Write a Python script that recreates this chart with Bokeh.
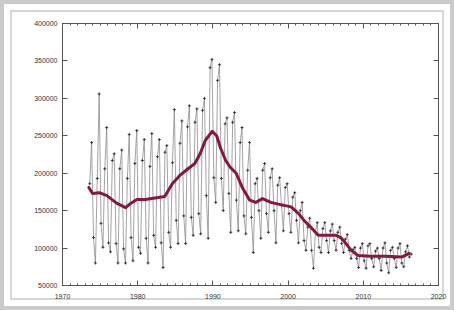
from bokeh.plotting import figure
from bokeh.models import (FixedTicker, LinearAxis, BasicTickFormatter, ColumnDataSource,
                          CustomJSTickFormatter)
from bokeh.embed import file_html
from bokeh.resources import INLINE

# ---- data ----
cycle_years = list(range(1974, 2017))
peak_values = [241000, 306000, 261000, 226000, 231000, 252000, 257000, 245000, 253000, 245000,
               237000, 285000, 270000, 290000, 286000, 300000, 352000, 345000, 274000, 281000,
               261000, 241000, 193000, 213000, 206000, 194000, 186000, 174000, 161000, 140000,
               134000, 134000, 132000, 128000, 118000, 101000, 106000, 106000, 100000, 107000,
               101000, 106000, 103000]
second_values = [186000, 193000, 206000, 217000, 206000, 193000, 213000, 217000, 209000, 222000,
                 228000, 214000, 240000, 262000, 268000, 284000, 341000, 324000, 266000, 268000,
                 241000, 204000, 186000, 204000, 194000, 184000, 181000, 168000, 150000, 128000,
                 121000, 126000, 123000, 121000, 112000, 98000, 100000, 103000, 96000, 100000,
                 97000, 100000, 95000]
low1_values = [114000, 133000, 107000, 106000, 99000, 114000, 101000, 113000, 117000, 107000,
               121000, 137000, 143000, 141000, 146000, 170000, 194000, 193000, 173000, 164000,
               143000, 141000, 150000, 146000, 150000, 157000, 146000, 137000, 110000, 97000,
               101000, 110000, 110000, 106000, 97000, 86000, 83000, 86000, 86000, 80000,
               86000, 80000, 88000]
low2_values = [80000, 101000, 95000, 80000, 80000, 83000, 93000, 80000, 101000, 74000,
               101000, 106000, 106000, 117000, 119000, 113000, 161000, 150000, 121000, 123000,
               119000, 94000, 113000, 121000, 107000, 123000, 121000, 107000, 97000, 73000,
               94000, 94000, 97000, 94000, 86000, 74000, 73000, 75000, 70000, 67000,
               74000, 75000, 92000]

trend_years = [1973.5, 1974.0, 1974.9, 1975.9, 1977.2, 1978.4, 1979.1, 1979.9, 1981.0, 1982.3,
               1983.6, 1984.6, 1985.6, 1986.7, 1987.6, 1988.3, 1989.0, 1989.9, 1990.5, 1991.0,
               1991.7, 1992.3, 1993.1, 1993.9, 1994.9, 1995.7, 1996.6, 1997.7, 1999.0, 2000.4,
               2001.4, 2002.2, 2003.0, 2004.0, 2005.0, 2006.4, 2007.0, 2007.7, 2008.4, 2009.3,
               2011.0, 2013.0, 2015.1, 2016.1]
trend_values = [181000, 173000, 174000, 170000, 160000, 154000, 160000, 165000, 165000, 167000,
                169000, 186000, 197000, 206000, 213000, 226000, 244000, 256000, 250000, 234000,
                217000, 208000, 200000, 181000, 164000, 161000, 166000, 161000, 158000, 155000,
                146000, 136000, 128000, 117000, 117000, 117000, 114000, 106000, 97000, 90000,
                89000, 89000, 88000, 93000]

x_ticks = [1970, 1980, 1990, 2000, 2010, 2020]
x_minor_ticks = list(range(1970, 2021))
y_ticks = [50000, 100000, 150000, 200000, 250000, 300000, 350000, 400000]

# ---- quarterly series built from the arrays ----
qx, qy = [], []
for yr, a, b, c, d in zip(cycle_years, second_values, peak_values, low1_values, low2_values):
    qx += [yr - 0.375, yr - 0.125, yr + 0.125, yr + 0.375]
    qy += [a, b, c, d]
src = ColumnDataSource(dict(x=qx, y=qy))

AX = "#555555"
FONT = "Liberation Sans"

p = figure(width=454, height=310, x_range=(1970, 2020), y_range=(50000, 400000),
           output_backend="svg", toolbar_location=None,
           min_border_left=62, min_border_right=16, min_border_top=23, min_border_bottom=25,
           styles={"background-color": "#ffffff",
                   "box-shadow": ("inset 0 0 0 4px #cbcbcb, inset 0 0 0 10px #ffffff, "
                                  "inset 0 0 0 12px #d6d6d6")})
p.xgrid.visible = False
p.ygrid.visible = False
p.outline_line_color = AX
p.background_fill_color = "white"
p.border_fill_color = None

xt = FixedTicker(ticks=x_ticks, minor_ticks=x_minor_ticks)
yt = FixedTicker(ticks=y_ticks, minor_ticks=[])

def style(ax, labels=True):
    ax.axis_line_color = AX
    ax.major_tick_line_color = AX
    ax.minor_tick_line_color = AX
    ax.major_tick_in = 5
    ax.major_tick_out = 0
    ax.minor_tick_in = 2
    ax.minor_tick_out = 0
    ax.major_label_text_font = FONT
    ax.major_label_text_color = "#333333"
    ax.major_label_text_font_size = "7px"
    if not labels:
        ax.formatter = CustomJSTickFormatter(code="return ''")
        ax.major_label_standoff = 0

xa = p.xaxis[0]
xa.ticker = xt
style(xa)
xa.major_label_standoff = 8

ya = p.yaxis[0]
ya.ticker = yt
ya.formatter = BasicTickFormatter(use_scientific=False)
style(ya)
ya.major_label_standoff = 5

top = LinearAxis(ticker=xt)
style(top, labels=False)
p.add_layout(top, "above")
right = LinearAxis(ticker=yt)
style(right, labels=False)
p.add_layout(right, "right")

# data line + markers
p.line("x", "y", source=src, line_color="#8c8c8c", line_width=0.8)
p.scatter("x", "y", source=src, marker="cross", size=3, line_color="#222222", line_width=0.8)

# trend
p.line(trend_years, trend_values, line_color="#861838", line_width=3,
       line_join="round", line_cap="round")

open("out.html", "w").write(file_html(p, INLINE))
